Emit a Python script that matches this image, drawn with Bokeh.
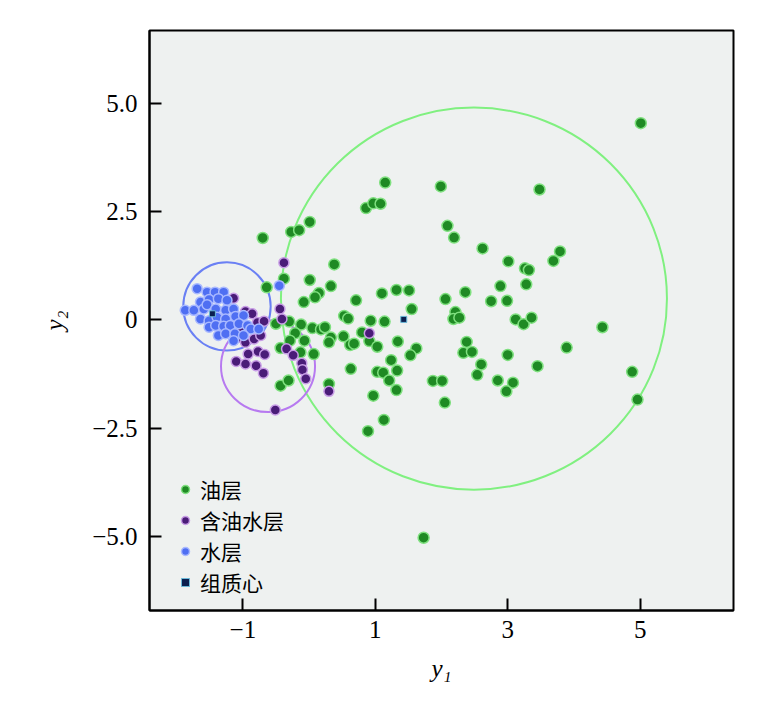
from bokeh.plotting import figure
from bokeh.models import FixedTicker, Legend, LegendItem
from bokeh.embed import file_html
from bokeh.resources import INLINE

# ---- data ----
oil_y1 = [1.15, 1.99, 0.86, 0.97, 1.08, 0.01, -0.27, -0.15, 2.09, 2.19, 2.62, 0.38,
          -0.38, 0.01, 0.33, 0.15, 0.09, -0.08, 0.71, 1.10, 1.32, 1.51, 1.55, 2.06,
          2.36, 2.75, 0.53, 0.59, 0.93, 1.14, 2.21, 2.18, 2.27, -0.30, -0.50, -0.12,
          0.05, 0.18, 0.24, -0.21, 0.33, 0.30, 0.52, 0.80, 0.91, 0.62, 0.68, 1.03,
          1.34, 1.62, 1.53, 2.38, 2.33, 2.46, 2.60, 2.54, -0.29, -0.43, -0.13, 0.07,
          1.24, 0.63, 1.03, 1.12, 1.33, 1.21, 1.32, 1.87, 2.01, 2.05, 0.97, 1.13,
          0.89, 0.30, -0.43, -0.31, -0.70, -0.64, 3.48, 3.01, 3.79, 3.69, 3.26, 3.32,
          3.28, 2.89, 2.99, 3.12, 3.24, 3.36, 4.43, 3.00, 3.89, 3.45, 2.85, 3.08,
          2.98, 4.88, 4.96, 5.01, 1.73, -0.07]
oil_y2 = [3.17, 3.08, 2.58, 2.69, 2.68, 2.26, 2.03, 2.07, 2.17, 1.90, 1.65, 1.28,
          0.95, 0.92, 0.78, 0.62, 0.52, 0.41, 0.45, 0.61, 0.69, 0.68, 0.25, 0.48,
          0.64, 0.43, 0.09, 0.03, -0.02, -0.04, 0.18, 0.02, 0.05, -0.04, -0.09, -0.11,
          -0.19, -0.22, -0.17, -0.31, -0.41, -0.52, -0.38, -0.29, -0.49, -0.58, -0.55, -0.62,
          -0.50, -0.66, -0.82, -0.51, -0.76, -0.74, -1.03, -1.27, -0.48, -0.65, -0.75, -0.79,
          -0.93, -1.13, -1.20, -1.22, -1.17, -1.40, -1.62, -1.41, -1.41, -1.91, -1.75, -2.31,
          -2.57, -1.48, -1.52, -1.40, 1.89, 0.75, 3.01, 1.35, 1.58, 1.36, 1.19, 1.15,
          0.82, 0.78, 0.44, 0.01, -0.10, 0.05, -0.17, -0.81, -0.64, -1.07, -1.40, -1.45,
          -1.65, -1.20, -1.84, 4.54, -5.03, -0.48]

oilwater_y1 = [-0.38, -0.44, -0.34, -0.24, -0.11, -0.10, -0.05, -0.51, 0.91, 0.30,
               -1.10, -0.92, -0.77, -0.67, -0.80, -0.69, -1.14, -0.96, -0.86, -0.78,
               -0.68, -0.41, -1.06, -0.96, -0.83, -0.73, -0.96, -1.04]
oilwater_y2 = [1.32, 0.25, -0.67, -0.82, -1.00, -1.15, -1.36, -2.08, -0.31, -1.65,
               -0.96, -0.79, -0.73, -0.80, -1.06, -1.23, 0.50, 0.19, 0.14, -0.06,
               -0.03, 0.02, -0.40, -0.52, -0.44, -0.36, -1.02, -0.21]

water_y1 = [-1.69, -1.54, -1.42, -1.29, -1.64, -1.51, -1.37, -1.24, -1.87, -1.74,
            -1.59, -1.54, -1.41, -1.26, -1.14, -1.64, -1.51, -1.39, -1.26, -1.11,
            -0.99, -1.51, -1.41, -1.29, -1.19, -1.06, -0.93, -1.37, -1.26, -1.12,
            -0.88, -0.76, -1.14, -0.99, -0.45]
water_y2 = [0.72, 0.64, 0.64, 0.64, 0.41, 0.47, 0.49, 0.45, 0.22, 0.22,
            0.25, 0.35, 0.25, 0.22, 0.25, 0.02, -0.02, 0.06, 0.02, 0.08,
            0.10, -0.17, -0.13, -0.15, -0.13, -0.09, -0.13, -0.36, -0.32, -0.32,
            -0.21, -0.21, -0.48, -0.36, 0.79]

centroid_y1 = [1.43, -1.46]
centroid_y2 = [0.01, 0.14]

# group circles: centre and extent (in y1 / y2 units)
circle_y1 = [2.49, -1.24, -0.62]
circle_y2 = [0.49, 0.31, -1.07]
circle_w = [5.83, 1.32, 1.42]
circle_h = [8.82, 2.04, 2.12]
circle_colors = ["#80f080", "#6a80f4", "#b77af0"]

x_ticks = [-1, 1, 3, 5]
y_ticks = [-5, -2.5, 0, 2.5, 5]
x_tick_labels = {-1: "\u22121", 1: "1", 3: "3", 5: "5"}
y_tick_labels = {-5: "\u22125.0", -2.5: "\u22122.5", 0: "0", 2.5: "2.5", 5: "5.0"}
legend_labels = ["油层", "含油水层", "水层", "组质心"]

# ---- figure ----
p = figure(frame_width=584, frame_height=580,
           x_range=(-2.41, 6.41), y_range=(-6.71, 6.68),
           min_border_left=149, min_border_right=35,
           min_border_top=30, min_border_bottom=90,
           output_backend="svg", toolbar_location=None)

p.background_fill_color = "#eef1f0"
p.border_fill_color = "white"
p.outline_line_color = "black"
p.outline_line_width = 2
p.xgrid.visible = False
p.ygrid.visible = False

serif = "Liberation Serif"
for ax in (p.xaxis[0], p.yaxis[0]):
    ax.axis_line_width = 2
    ax.axis_line_color = "black"
    ax.major_tick_line_width = 2
    ax.major_tick_in = 12
    ax.major_tick_out = 0
    ax.minor_tick_line_color = None
    ax.major_label_text_font = serif
    ax.major_label_text_font_size = "25px"
    ax.major_label_text_color = "black"
    ax.axis_label_text_font = serif
    ax.axis_label_text_font_style = "italic"
    ax.axis_label_text_font_size = "25px"
    ax.axis_label_text_color = "black"

p.xaxis.ticker = FixedTicker(ticks=x_ticks)
p.yaxis.ticker = FixedTicker(ticks=y_ticks)
p.xaxis.major_label_overrides = x_tick_labels
p.yaxis.major_label_overrides = y_tick_labels
p.xaxis.major_label_standoff = 10
p.yaxis.major_label_standoff = 12
p.xaxis.axis_label = "y\u2081"
p.yaxis.axis_label = "y\u2082"
p.xaxis.axis_label_standoff = 14
p.yaxis.axis_label_standoff = 21

# group circles
p.ellipse(x=circle_y1, y=circle_y2, width=circle_w, height=circle_h,
          fill_color=None, line_color=circle_colors, line_width=2)

r_oil = p.scatter(oil_y1, oil_y2, size=11, fill_color="#1f8a24",
                  line_color="#7fe07f", line_width=1.5)
r_ow = p.scatter(oilwater_y1, oilwater_y2, size=10, fill_color="#4a1c78",
                 line_color="#c89de6", line_width=1.5)
r_w = p.scatter(water_y1, water_y2, size=10, fill_color="#4f6ff2",
                line_color="#a9b9ff", line_width=1.5)
r_c = p.scatter(centroid_y1, centroid_y2, marker="square", size=6,
                fill_color="#0b1f4f", line_color="#6ab8d8", line_width=1)

# one single-entry legend per item, stacked with ~31px pitch (bottom-left of frame)
renderers = [r_oil, r_ow, r_w, r_c]
legend_offsets = [106, 75, 44, 13]
for lab, rend, off in zip(legend_labels, renderers, legend_offsets):
    lg = Legend(items=[LegendItem(label=lab, renderers=[rend])], location=(26, off))
    lg.padding = 0
    lg.margin = 0
    lg.spacing = 0
    lg.glyph_width = 20
    lg.glyph_height = 24
    lg.label_standoff = 5
    lg.label_text_font = "Noto Sans CJK SC"
    lg.label_text_font_size = "21px"
    lg.label_text_color = "black"
    lg.background_fill_alpha = 0
    lg.border_line_color = None
    p.add_layout(lg, "center")

open("out.html", "w").write(file_html(p, INLINE))
